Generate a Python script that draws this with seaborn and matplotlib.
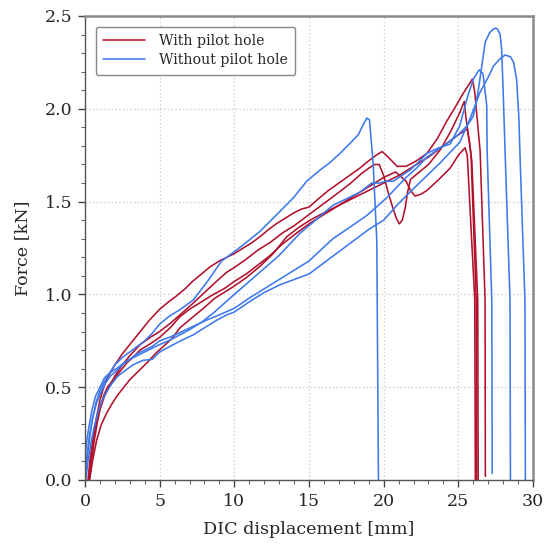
import numpy as np
import pandas as pd
import matplotlib
matplotlib.use("Agg")
import matplotlib.pyplot as plt
import seaborn as sns
from matplotlib.ticker import MultipleLocator

# ---------------- data ----------------
groups = ["With pilot hole", "Without pilot hole"]
colors = {"With pilot hole": "#b0112b", "Without pilot hole": "#3d79ec"}

red1_x = [0.2,0.35,0.5,0.75,1.0,1.25,1.5,2.0,2.5,3.1,3.7,4.3,5.0,5.6,6.1,6.7,7.2,7.8,8.4,9.0,9.5,10.0,10.6,11.2,11.7,12.3,12.8,13.4,14.0,14.5,15.0,15.7,16.3,17.0,17.7,18.4,19.0,19.5,19.9,20.3,20.9,21.5,22.2,22.9,23.6,24.2,24.8,25.3,25.7,25.94,26.1,26.46,26.79,26.81]
red1_f = [0,0.12,0.2,0.33,0.43,0.5,0.55,0.62,0.68,0.74,0.80,0.86,0.92,0.96,0.99,1.03,1.07,1.11,1.15,1.18,1.20,1.22,1.25,1.28,1.31,1.35,1.38,1.41,1.44,1.46,1.47,1.52,1.56,1.60,1.64,1.68,1.72,1.75,1.77,1.74,1.69,1.69,1.72,1.76,1.84,1.93,2.01,2.08,2.13,2.16,2.09,1.77,0.97,0.02]

red2_x = [0.3,0.45,0.6,0.8,1.0,1.3,1.6,2.0,2.5,3.0,3.7,4.4,5.0,5.8,6.5,7.2,8.0,8.8,9.5,10.0,10.8,11.6,12.4,13.2,14.0,15.0,16.0,17.0,17.8,18.5,19.0,19.4,19.7,20.0,20.3,20.6,20.85,21.05,21.25,21.45,21.6,21.8,22.4,23.0,23.8,24.5,25.1,25.4,25.5,25.85,26.2,26.23]
red2_f = [0,0.1,0.2,0.3,0.38,0.45,0.5,0.56,0.62,0.67,0.73,0.77,0.80,0.85,0.90,0.95,1.01,1.07,1.12,1.145,1.19,1.24,1.28,1.33,1.37,1.43,1.49,1.55,1.60,1.65,1.68,1.70,1.70,1.64,1.55,1.47,1.41,1.38,1.40,1.47,1.55,1.62,1.66,1.70,1.78,1.88,1.98,2.04,1.96,1.75,0.97,0.0]

red3_x = [0.25,0.4,0.55,0.78,1.0,1.23,1.5,1.9,2.4,2.79,3.2,3.68,4.3,5.02,5.7,6.36,7.0,7.8,8.6,9.3,10.0,10.8,11.6,12.4,13.2,14.0,15.0,16.0,17.0,18.0,19.0,20.0,20.8,21.5,21.8,22.1,22.5,22.9,23.7,24.45,25.0,25.45,25.6,26.1,26.14]
red3_f = [0,0.12,0.22,0.32,0.38,0.45,0.5,0.54,0.59,0.63,0.66,0.70,0.73,0.77,0.82,0.88,0.92,0.96,1.0,1.03,1.07,1.11,1.16,1.21,1.27,1.32,1.38,1.43,1.48,1.53,1.58,1.63,1.66,1.61,1.56,1.53,1.54,1.56,1.62,1.68,1.75,1.79,1.75,0.97,0.0]

red4_x = [0.3,0.5,0.78,1.1,1.45,1.8,2.12,2.5,3.0,3.5,4.13,4.7,5.25,5.8,6.36,7.25,8.0,8.7,9.3,9.9,10.8,11.7,12.6,13.5,14.3,15.07,16.0,17.0,18.0,19.0,20.0,21.0,22.0,23.0,24.0,25.0,25.6,25.75,25.9,26.3,26.33]
red4_f = [0,0.1,0.215,0.3,0.36,0.41,0.45,0.49,0.54,0.58,0.63,0.68,0.72,0.76,0.82,0.88,0.93,0.98,1.01,1.04,1.09,1.15,1.22,1.31,1.36,1.40,1.44,1.48,1.52,1.56,1.60,1.64,1.69,1.74,1.80,1.86,1.89,1.82,1.72,0.97,0.0]

blue1_x = [0.0,0.15,0.3,0.5,0.75,1.0,1.3,1.67,2.0,2.5,3.0,3.5,4.0,4.5,5.0,5.6,6.4,7.25,8.2,9.15,10.0,10.8,11.72,12.84,13.95,14.85,15.74,16.4,17.08,17.7,18.3,18.6,18.87,19.05,19.3,19.54,19.65]
blue1_f = [0.0,0.12,0.22,0.33,0.42,0.48,0.53,0.58,0.62,0.66,0.69,0.72,0.75,0.79,0.84,0.88,0.92,0.97,1.07,1.18,1.23,1.28,1.34,1.43,1.52,1.61,1.67,1.71,1.76,1.81,1.86,1.91,1.95,1.94,1.70,1.29,0.0]

blue2_x = [0.0,0.15,0.3,0.5,0.75,1.0,1.35,1.7,2.0,2.5,3.0,3.5,4.0,4.5,5.0,5.7,6.5,7.3,8.1,9.0,10.0,11.0,12.0,13.0,14.0,15.0,16.6,17.7,18.87,20.2,21.5,22.2,22.9,24.0,25.0,25.6,26.0,26.3,26.57,26.8,27.1,27.35,27.5,27.62,27.8,27.9,28.0,28.13,28.46,28.49]
blue2_f = [0.05,0.15,0.24,0.33,0.41,0.46,0.52,0.56,0.58,0.62,0.65,0.68,0.70,0.72,0.75,0.77,0.80,0.83,0.86,0.89,0.925,0.98,1.03,1.08,1.13,1.18,1.30,1.36,1.425,1.52,1.63,1.68,1.74,1.80,1.86,1.91,1.96,2.08,2.23,2.36,2.41,2.43,2.435,2.43,2.40,2.32,2.1,1.77,0.97,0.0]

blue3_x = [0.05,0.2,0.4,0.6,0.85,1.1,1.4,1.8,2.2,2.7,3.2,3.6,3.9,4.5,5.0,5.7,6.4,7.2,8.0,8.8,9.5,10.0,11.0,12.0,13.0,14.0,15.0,16.0,17.0,18.0,19.0,20.0,21.0,22.0,22.9,23.8,24.5,25.1,25.8,26.46,27.0,27.35,27.8,28.13,28.5,28.7,28.9,29.05,29.15,29.46,29.49]
blue3_f = [0.0,0.1,0.2,0.28,0.36,0.42,0.47,0.52,0.56,0.59,0.62,0.635,0.645,0.65,0.69,0.72,0.75,0.78,0.82,0.86,0.89,0.905,0.96,1.01,1.05,1.08,1.11,1.17,1.23,1.29,1.35,1.40,1.49,1.57,1.64,1.71,1.77,1.82,1.95,2.09,2.17,2.23,2.27,2.29,2.28,2.25,2.16,1.96,1.7,0.97,0.0]

blue4_x = [0.0,0.1,0.25,0.45,0.7,1.0,1.3,1.7,2.1,2.6,3.0,3.5,4.0,4.5,5.0,5.6,6.3,7.0,7.8,8.6,9.3,10.0,11.0,12.0,13.0,14.4,15.0,16.6,18.4,19.2,19.7,20.2,20.65,21.2,21.77,22.3,22.9,23.7,24.45,25.1,25.6,26.0,26.4,26.65,26.9,26.93,27.24,27.27]
blue4_f = [0.14,0.2,0.28,0.37,0.45,0.5,0.55,0.58,0.6,0.63,0.65,0.67,0.69,0.71,0.73,0.75,0.78,0.81,0.85,0.9,0.95,1.0,1.07,1.14,1.21,1.33,1.37,1.48,1.55,1.60,1.60,1.61,1.61,1.64,1.67,1.71,1.76,1.79,1.81,1.91,2.06,2.16,2.21,2.19,2.02,1.77,0.97,0.035]

curves = [
    ("R1", groups[0], red1_x, red1_f),
    ("R2", groups[0], red2_x, red2_f),
    ("R3", groups[0], red3_x, red3_f),
    ("R4", groups[0], red4_x, red4_f),
    ("B1", groups[1], blue1_x, blue1_f),
    ("B2", groups[1], blue2_x, blue2_f),
    ("B3", groups[1], blue3_x, blue3_f),
    ("B4", groups[1], blue4_x, blue4_f),
]
frames = []
for cid, grp, xs, fs in curves:
    frames.append(pd.DataFrame({"specimen": cid, "group": grp,
                                "disp": xs, "force": fs}))
df = pd.concat(frames, ignore_index=True)

# ---------------- plot ----------------
sns.set_theme(style="white")
plt.rcParams["font.family"] = ["DejaVu Serif"]
plt.rcParams["mathtext.fontset"] = "dejavuserif"

fig = plt.figure(figsize=(5.49, 5.47), dpi=100)
ax = fig.add_axes([85/549, 67/547, 448/549, 464/547])

sns.lineplot(data=df, x="disp", y="force", hue="group", units="specimen",
             estimator=None, sort=False, palette=colors, hue_order=groups,
             linewidth=1.15, ax=ax)

ax.set_xlim(0, 30)
ax.set_ylim(0, 2.5)
ax.xaxis.set_major_locator(MultipleLocator(5))
ax.xaxis.set_minor_locator(MultipleLocator(1))
ax.yaxis.set_major_locator(MultipleLocator(0.5))
ax.yaxis.set_minor_locator(MultipleLocator(0.1))
ax.yaxis.set_major_formatter(matplotlib.ticker.FormatStrFormatter("%.1f"))

ax.grid(True, which="major", linestyle=(0, (1, 2)), color="#c8c8c8", linewidth=0.9)
ax.set_axisbelow(True)

ax.tick_params(which="major", direction="out", length=5, width=1.0,
               color="#444444", labelsize=12.5, bottom=True, left=True, pad=4)
ax.tick_params(which="minor", direction="out", length=3, width=0.8,
               color="#666666", bottom=True, left=True)

for side in ["left", "bottom"]:
    ax.spines[side].set_color("#555555")
    ax.spines[side].set_linewidth(1.0)
for side in ["top", "right"]:
    ax.spines[side].set_color("#8a8a8a")
    ax.spines[side].set_linewidth(1.8)

ax.set_xlabel("DIC displacement [mm]", fontsize=12.6, labelpad=8)
ax.set_ylabel("Force [kN]", fontsize=12.6, labelpad=10)

handles, labels = ax.get_legend_handles_labels()
leg = ax.legend(handles, labels, loc="upper left", fontsize=10.2,
                frameon=True, fancybox=True, edgecolor="#888888",
                framealpha=1.0, handlelength=2.9, borderaxespad=0.75,
                borderpad=0.55, labelspacing=0.35, handletextpad=1.0)
leg.get_frame().set_linewidth(1.0)

fig.savefig("out.png", dpi=100)
